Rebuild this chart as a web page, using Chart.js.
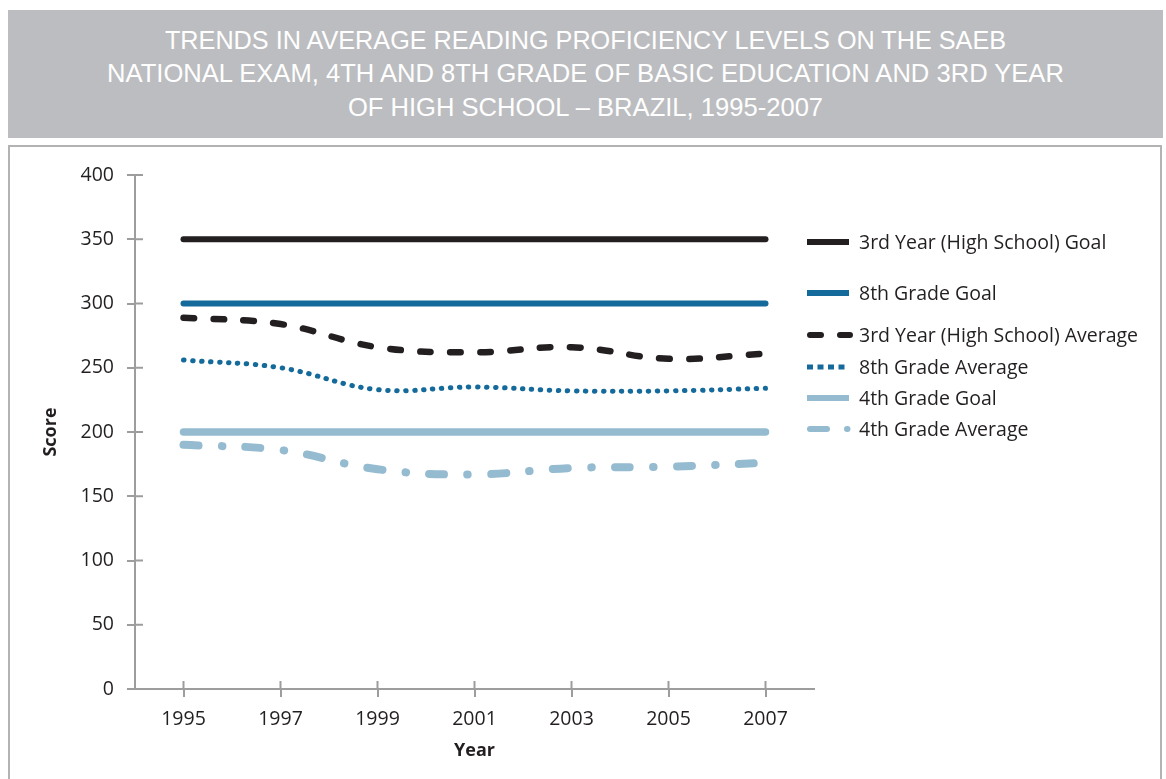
<!DOCTYPE html>
<html>
<head>
<meta charset="utf-8">
<script src="https://cdn.jsdelivr.net/npm/chart.js@4"></script>
<style>
  body { margin: 0; background: #fff; width: 1166px; height: 779px; overflow: hidden; position: relative; }
  .banner {
    position: absolute; left: 8px; top: 10px; width: 1155px; height: 128px;
    background: #bcbdc0; color: #fff; text-align: center;
    font-family: "Liberation Sans", Arial, sans-serif; font-size: 26.5px;
  }
  .banner div { position: absolute; left: 0; width: 100%; height: 30px; line-height: 30px; transform: scaleX(0.965); }
  .frame {
    position: absolute; left: 8px; top: 145px; width: 1154px; height: 700px;
    border: 2px solid #b3b3b3; box-sizing: border-box;
  }
  #chart { position: absolute; left: 0; top: 146px; }
</style>
</head>
<body>
<div class="banner">
  <div style="top: 14.5px; transform: scaleX(0.952)">TRENDS IN AVERAGE READING PROFICIENCY LEVELS ON THE SAEB</div>
  <div style="top: 48px">NATIONAL EXAM, 4TH AND 8TH GRADE OF BASIC EDUCATION AND 3RD YEAR</div>
  <div style="top: 81.5px">OF HIGH SCHOOL – BRAZIL, 1995-2007</div>
</div>
<div class="frame"></div>
<canvas id="chart" width="1166" height="633"></canvas>
<script>
// DATA
const years = ["1995", "1997", "1999", "2001", "2003", "2005", "2007"];
const goalHigh = [350, 350, 350, 350, 350, 350, 350];
const goal8th = [300, 300, 300, 300, 300, 300, 300];
const avgHigh = [289, 284, 266, 262, 266, 257, 261];
const avg8th = [256, 250, 233, 235, 232, 232, 234];
const goal4th = [200, 200, 200, 200, 200, 200, 200];
const avg4th = [190, 186, 171, 167, 172, 173, 176];
const yTicks = [0, 50, 100, 150, 200, 250, 300, 350, 400];

// COLORS
const black = "#231f20";
const blue = "#146a9a";
const lightBlue = "#95bbd0";
const axisColor = "#9d9d9d";
const font = "'Open Sans', sans-serif";

const ctx = document.getElementById("chart").getContext("2d");

// legend row positions (page y), one per dataset
const legendRows = [242, 293, 335, 367, 398, 429];

const makeSet = (label, data, color, width, dash, legendDash, legendCap) => ({
  label: label,
  data: data,
  borderColor: color,
  borderWidth: width,
  borderDash: dash,
  borderCapStyle: "round",
  pointRadius: 0,
  fill: false,
  tension: 0.4,
  legendDash: legendDash,
  legendCap: legendCap
});

// crossing tick marks on both axes
const crossTicks = {
  id: "crossTicks",
  afterDraw(chart) {
    const c = chart.ctx;
    const area = chart.chartArea;
    c.save();
    c.strokeStyle = axisColor;
    c.lineWidth = 2;
    chart.scales.x.ticks.forEach((t, i) => {
      const x = chart.scales.x.getPixelForTick(i);
      c.beginPath(); c.moveTo(x, area.bottom); c.lineTo(x, area.bottom - 8); c.stroke();
    });
    chart.scales.y.ticks.forEach((t, i) => {
      const y = chart.scales.y.getPixelForTick(i);
      c.beginPath(); c.moveTo(area.left, y); c.lineTo(area.left + 8, y); c.stroke();
    });
    c.restore();
  }
};

// legend on the right
const sideLegend = {
  id: "sideLegend",
  afterDraw(chart) {
    const c = chart.ctx;
    const top = chart.canvas.offsetTop;
    c.save();
    chart.data.datasets.forEach((ds, i) => {
      const y = legendRows[i] - top;
      const round = ds.legendCap === "round";
      c.beginPath();
      c.strokeStyle = ds.borderColor;
      c.lineWidth = Math.min(ds.borderWidth, 6);
      c.lineCap = ds.legendCap;
      c.setLineDash(ds.legendDash);
      c.moveTo(round ? 810 : 807, y);
      c.lineTo(round ? 850 : 849, y);
      c.stroke();
      c.setLineDash([]);
      c.fillStyle = black;
      c.font = "19.5px " + font;
      c.textBaseline = "middle";
      c.fillText(ds.label, 859, y + 1);
    });
    c.restore();
  }
};

const chart = new Chart(ctx, {
  type: "line",
  data: {
    labels: years,
    datasets: [
      makeSet("3rd Year (High School) Goal", goalHigh, black, 6, [], [], "butt"),
      makeSet("8th Grade Goal", goal8th, blue, 6, [], [], "butt"),
      makeSet("3rd Year (High School) Average", avgHigh, black, 6.5, [10.5, 19.5], [11, 19, 11], "round"),
      makeSet("8th Grade Average", avg8th, blue, 5, [0.5, 8.5], [6, 4.5], "butt"),
      makeSet("4th Grade Goal", goal4th, lightBlue, 7.5, [], [], "butt"),
      makeSet("4th Grade Average", avg4th, lightBlue, 8, [15, 23.25, 0.5, 23.25], [17, 20, 0.5, 20], "round")
    ]
  },
  options: {
    responsive: false,
    devicePixelRatio: 1,
    animation: false,
    layout: { padding: { left: 0, top: 29, right: 352, bottom: 0 } },
    plugins: {
      legend: { display: false },
      tooltip: { enabled: false }
    },
    scales: {
      x: {
        type: "category",
        offset: true,
        grid: { display: true, drawOnChartArea: false, tickLength: 8, color: axisColor, lineWidth: 2, offset: false },
        border: { color: axisColor, width: 2 },
        ticks: { font: { family: font, size: 19.5 }, color: black, padding: 11, maxRotation: 0 },
        title: { display: true, text: "Year", font: { family: font, size: 18, weight: "bold" }, color: black, padding: { top: 0, bottom: 17 } },
        afterFit: s => { s.height = 90; }
      },
      y: {
        min: 0,
        max: 400,
        afterBuildTicks: s => { s.ticks = yTicks.map(v => ({ value: v })); },
        grid: { display: true, drawOnChartArea: false, tickLength: 8, color: axisColor, lineWidth: 2 },
        border: { color: axisColor, width: 2 },
        ticks: { font: { family: font, size: 19.5 }, color: black, padding: 13 },
        title: { display: true, text: "Score", font: { family: font, size: 18, weight: "bold" }, color: black, padding: { top: 40, bottom: 0 } },
        afterFit: s => { s.width = 135; }
      }
    }
  },
  plugins: [crossTicks, sideLegend]
});
</script>
</body>
</html>
